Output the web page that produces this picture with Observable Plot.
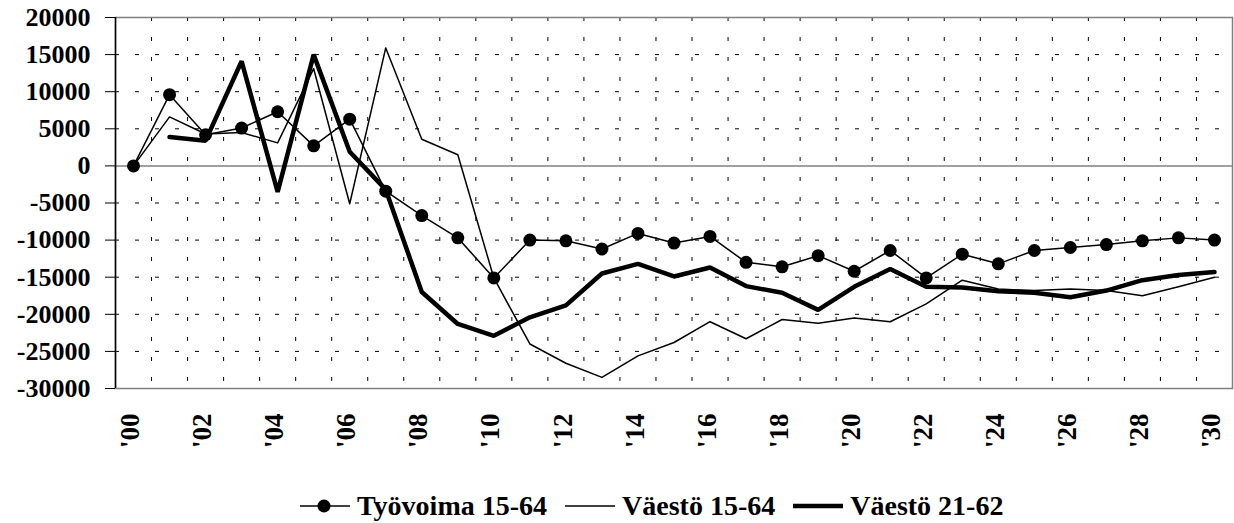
<!DOCTYPE html>
<html>
<head>
<meta charset="utf-8">
<script src="https://cdn.jsdelivr.net/npm/d3@7"></script>
<script src="https://cdn.jsdelivr.net/npm/@observablehq/plot@0.6"></script>
<style>
  html, body { margin: 0; padding: 0; background: #fff; }
  #wrap { position: relative; width: 1234px; height: 523px; overflow: hidden; font-family: "Times New Roman", "Liberation Serif", Tinos, "DejaVu Serif", serif; font-weight: bold; }
  #chart svg, #chart svg text { font-family: "Times New Roman", "Liberation Serif", Tinos, "DejaVu Serif", serif !important; font-weight: bold !important; }
  #legend { position: absolute; left: 300px; top: 490px; height: 32px; display: flex; align-items: center; font-size: 28px; line-height: 32px; white-space: nowrap; }
  .item { display: flex; align-items: center; margin-right: 18px; }
  .item svg { margin-right: 7px; }
</style>
</head>
<body>
<div id="wrap"><div id="chart"></div><div id="legend"></div></div>
<script>
// Years 2000..2030 (index 0..30)
const years = d3.range(2000, 2031);
const tickLabels = ["'00","'02","'04","'06","'08","'10","'12","'14","'16","'18","'20","'22","'24","'26","'28","'30"];
const seriesNames = ["Työvoima 15-64", "Väestö 15-64", "Väestö 21-62"];
const tyovoima = [0, 9600, 4200, 5100, 7300, 2700, 6300, -3400, -6700, -9700, -15100, -10000, -10100, -11200, -9100, -10400, -9500, -13000, -13600, -12100, -14200, -11400, -15100, -11900, -13200, -11400, -11000, -10600, -10100, -9700, -10000];
const vaesto1564 = [0, 6600, 4300, 4500, 3100, 13100, -5100, 15900, 3600, 1500, -15100, -24000, -26600, -28500, -25600, -23800, -21000, -23300, -20700, -21200, -20500, -21000, -18600, -15400, -16600, -16800, -16600, -16800, -17500, -16300, -15000];
const vaesto2162 = [null, 3900, 3400, 14100, -3500, 15000, 1900, -3200, -17000, -21300, -22900, -20400, -18800, -14500, -13200, -14900, -13700, -16200, -17100, -19400, -16300, -13900, -16300, -16400, -16900, -17100, -17700, -16800, -15400, -14700, -14300];
const yTicks = [20000, 15000, 10000, 5000, 0, -5000, -10000, -15000, -20000, -25000, -30000];

const rows = years.map((yr, i) => ({i, yr, t: tyovoima[i], a: vaesto1564[i], b: vaesto2162[i]}));
const labelRows = tickLabels.map((lab, k) => ({i: k * 2, lab}));
const boundaries = years.slice(1).map((yr, k) => k + 0.5);
const innerGrid = yTicks.filter(v => v !== 0 && v !== 20000 && v !== -30000);

const chart = Plot.plot({
  width: 1234,
  height: 460,
  marginLeft: 115,
  marginRight: 2,
  marginTop: 17,
  marginBottom: 72,
  style: {fontSize: "26px", background: "white", overflow: "visible"},
  x: {type: "linear", domain: [-0.5, 30.5], axis: null},
  y: {domain: [-30000, 20000], axis: null},
  marks: [
    Plot.ruleY(innerGrid, {stroke: "black", strokeWidth: 1, strokeDasharray: "4,16"}),
    Plot.ruleX(boundaries, {stroke: "black", strokeWidth: 1, strokeDasharray: "4,16"}),
    Plot.frame({stroke: "#808080", strokeWidth: 1.5}),
    Plot.ruleY([0], {stroke: "#808080", strokeWidth: 1.5}),
    Plot.ruleX([-0.5], {stroke: "black", strokeWidth: 1.5}),
    Plot.axisY({ticks: yTicks, tickSize: 10, tickPadding: 15, tickFormat: d => String(d), label: null, stroke: "black", fontSize: 26}),
    Plot.line(rows, {x: "i", y: "t", stroke: "black", strokeWidth: 1.5}),
    Plot.dot(rows, {x: "i", y: "t", r: 6.5, fill: "black", stroke: "none"}),
    Plot.line(rows, {x: "i", y: "a", stroke: "black", strokeWidth: 1.5}),
    Plot.line(rows, {x: "i", y: "b", stroke: "black", strokeWidth: 4.5, strokeLinejoin: "miter"}),
    Plot.text(labelRows, {x: "i", y: () => -30000, text: "lab", rotate: -90, textAnchor: "end", lineAnchor: "middle", dy: 25, dx: -3, fontSize: 27, fill: "black"})
  ]
});
document.getElementById("chart").appendChild(chart);

// Legend
const legend = d3.select("#legend");
const styles = [
  {w: 1.5, dot: true},
  {w: 1.5, dot: false},
  {w: 4.5, dot: false}
];
seriesNames.forEach((name, k) => {
  const item = legend.append("div").attr("class", "item");
  const s = item.append("svg").attr("width", 50).attr("height", 20);
  s.append("line").attr("x1", 0).attr("x2", 50).attr("y1", 10).attr("y2", 10).attr("stroke", "black").attr("stroke-width", styles[k].w);
  if (styles[k].dot) s.append("circle").attr("cx", 24).attr("cy", 10).attr("r", 6.5).attr("fill", "black");
  item.append("span").text(name);
});
</script>
</body>
</html>
